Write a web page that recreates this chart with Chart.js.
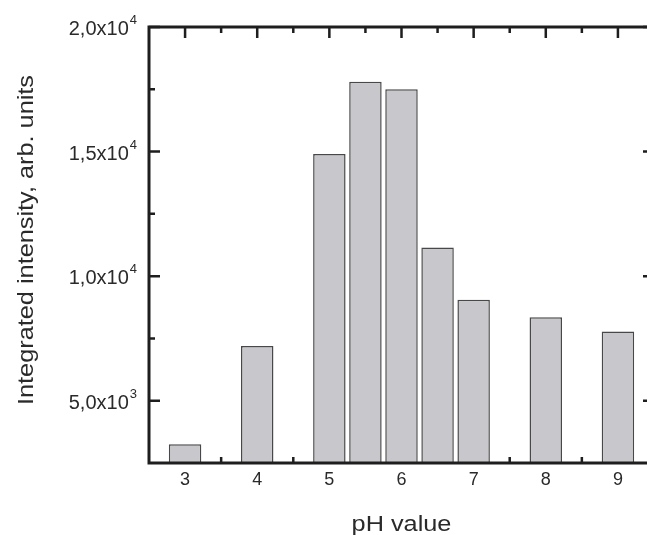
<!DOCTYPE html>
<html>
<head>
<meta charset="utf-8">
<title>Integrated intensity vs pH</title>
<script src="https://cdn.jsdelivr.net/npm/chart.js@4.4.1/dist/chart.umd.min.js"></script>
<style>
    html, body { margin: 0; padding: 0; background: #fff; overflow: hidden; }
    #wrap { width: 647px; height: 535px; overflow: hidden; }
</style>
</head>
<body>
<div id="wrap"><canvas id="phChart" width="662" height="535"></canvas></div>
<script>
// pH values of the samples
const phValues = [3, 4, 5, 5.5, 6, 6.5, 7, 8, 9];
// integrated intensity, arb. units
const intensity = [3250, 7200, 14900, 17800, 17500, 11150, 9050, 8350, 7780];

// axis ticks
const xTicks = [3, 4, 5, 6, 7, 8, 9];
const xMinorTicks = [3.5, 4.5, 5.5, 6.5, 7.5, 8.5];
const yTicks = [5000, 10000, 15000, 20000];
const yMinorTicks = [7500, 12500, 17500];
const yTickMantissa = ["5,0x10", "1,0x10", "1,5x10", "2,0x10"];
const yTickExponent = ["3", "4", "4", "4"];

const xTitle = "pH value";
const yTitle = "Integrated intensity, arb. units";

const AXIS_COLOR = "#1e1e1e";
const TEXT_COLOR = "#2a2a2a";
const FONT = "'Liberation Sans', Arial, sans-serif";

// draw text stretched a bit horizontally, like in the original figure
function drawTitle(ctx, text, x, y, angle) {
    ctx.save();
    ctx.translate(x, y);
    ctx.rotate(angle);
    ctx.scale(1.15, 1);
    ctx.font = "22px " + FONT;
    ctx.textAlign = "center";
    ctx.textBaseline = "alphabetic";
    ctx.fillText(text, 0, 0);
    ctx.restore();
}

// frame, inward ticks and labels (Origin style)
const originFrame = {
    id: "originFrame",
    beforeDatasetsDraw(chart) {
        const { ctx, chartArea: a, scales: { x, y } } = chart;
        ctx.save();
        ctx.strokeStyle = AXIS_COLOR;
        ctx.lineWidth = 2.5;
        ctx.beginPath();
        const tickX = (v, len) => {
            const px = x.getPixelForValue(v);
            ctx.moveTo(px, a.top); ctx.lineTo(px, a.top + len);
            ctx.moveTo(px, a.bottom); ctx.lineTo(px, a.bottom - len);
        };
        const tickY = (v, len) => {
            const py = y.getPixelForValue(v);
            ctx.moveTo(a.left, py); ctx.lineTo(a.left + len, py);
            ctx.moveTo(a.right, py); ctx.lineTo(a.right - len, py);
        };
        xTicks.forEach(v => tickX(v, 11));
        xMinorTicks.forEach(v => tickX(v, 6));
        yTicks.forEach(v => tickY(v, 11));
        yMinorTicks.forEach(v => tickY(v, 6));
        ctx.stroke();
        ctx.restore();
    },
    afterDatasetsDraw(chart) {
        const { ctx, chartArea: a, scales: { x, y } } = chart;
        ctx.save();
        ctx.strokeStyle = AXIS_COLOR;
        ctx.lineWidth = 3;
        ctx.strokeRect(a.left, a.top, a.right - a.left, a.bottom - a.top);

        ctx.fillStyle = TEXT_COLOR;

        // x tick labels
        ctx.font = "18px " + FONT;
        ctx.textAlign = "center";
        ctx.textBaseline = "middle";
        xTicks.forEach(v => {
            ctx.fillText(String(v), x.getPixelForValue(v), a.bottom + 17);
        });

        // y tick labels with superscript exponent
        yTicks.forEach((v, i) => {
            const py = y.getPixelForValue(v);
            ctx.font = "13px " + FONT;
            const supW = ctx.measureText(yTickExponent[i]).width;
            const right = a.left - 12;
            ctx.textAlign = "right";
            ctx.textBaseline = "alphabetic";
            ctx.fillText(yTickExponent[i], right, py - 3);
            ctx.font = "20px " + FONT;
            ctx.fillText(yTickMantissa[i], right - supW - 1, py + 8);
        });
        ctx.restore();

        ctx.save();
        ctx.fillStyle = TEXT_COLOR;
        drawTitle(ctx, xTitle, (a.left + a.right) / 2, 531, 0);
        drawTitle(ctx, yTitle, 33, 240, -Math.PI / 2);
        ctx.restore();
    }
};

const ctx = document.getElementById("phChart").getContext("2d");
const phChart = new Chart(ctx, {
    type: "bar",
    data: {
        datasets: [{
            label: "Integrated intensity",
            data: phValues.map((ph, i) => ({ x: ph, y: intensity[i] })),
            backgroundColor: "#c8c8cc",
            borderColor: "#484848",
            borderWidth: 1.5,
            categoryPercentage: 1.0,
            barPercentage: 0.9
        }]
    },
    options: {
        responsive: false,
        animation: false,
        layout: { padding: { left: 149, top: 27, right: 8, bottom: 72 } },
        plugins: {
            legend: { display: false },
            tooltip: { enabled: false }
        },
        scales: {
            x: { type: "linear", min: 2.5, max: 9.5, offset: false, display: false },
            y: { type: "linear", min: 2500, max: 20000, display: false }
        }
    },
    plugins: [originFrame]
});
</script>
</body>
</html>
